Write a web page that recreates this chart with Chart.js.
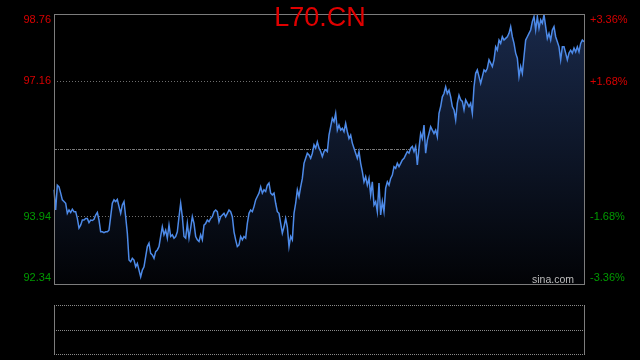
<!DOCTYPE html>
<html lang="en">
<head>
<meta charset="UTF-8">
<title>L70.CN</title>
<style>
    body {
        margin: 0;
        background: #000;
        width: 640px;
        height: 360px;
        overflow: hidden;
        position: relative;
        font-family: "Liberation Sans", Arial, sans-serif;
    }
    canvas { position: absolute; left: 0; top: 0; }
    .title {
        position: absolute;
        left: 0;
        top: 4px;
        width: 640px;
        text-align: center;
        color: #e00000;
        font-size: 27px;
        line-height: 27px;
    }
    .mark {
        position: absolute;
        left: 532px;
        top: 274px;
        color: #bdbdbd;
        font-size: 10.5px;
        line-height: 11px;
    }
</style>
<script src="https://cdn.jsdelivr.net/npm/chart.js"></script>
</head>
<body>
<canvas id="chart" width="640" height="360"></canvas>
<div class="title">L70.CN</div>
<div class="mark">sina.com</div>

<script>
// price axis and reference levels
const prevClose = 95.55;
const priceTicks = [98.76, 97.16, 93.94, 92.34];
const pctTicks = [3.36, 1.68, 0, -1.68, -3.36];

// intraday price trace
const prices = [
    94.58, 94.10, 94.69, 94.65, 94.50, 94.34, 94.30, 94.26, 94.02, 94.10,
    94.04, 94.12, 94.06, 94.06, 93.90, 93.67, 93.74, 93.86, 93.86, 93.90,
    93.90, 93.80, 93.86, 93.85, 93.88, 93.98, 94.04, 93.86, 93.58, 93.58,
    93.56, 93.58, 93.58, 93.62, 93.94, 94.26, 94.34, 94.30, 94.35, 94.18,
    94.02, 94.22, 94.30, 93.94, 93.55, 92.91, 92.87, 92.95, 92.91, 92.75,
    92.83, 92.67, 92.51, 92.67, 92.75, 92.99, 93.23, 93.31, 93.07, 93.03,
    92.95, 93.11, 93.15, 93.23, 93.47, 93.70, 93.51, 93.62, 93.43, 93.74,
    93.47, 93.51, 93.43, 93.47, 93.58, 93.94,
    94.26, 93.94, 93.47, 93.43, 93.78, 93.43, 93.67, 93.94, 93.78, 93.47,
    93.39, 93.35, 93.51, 93.39, 93.74, 93.78, 93.86, 93.82, 93.90, 93.94,
    94.06, 94.10, 94.06, 93.82, 93.94, 93.98, 94.02, 93.94, 94.02, 94.10,
    94.06, 93.94, 93.58, 93.39, 93.23, 93.27, 93.47, 93.39, 93.47, 93.43,
    93.78, 94.02, 94.10, 94.06, 94.18, 94.34, 94.42, 94.50, 94.65, 94.50,
    94.58, 94.54, 94.69, 94.74, 94.50, 94.46, 94.50, 94.26, 94.06, 94.02,
    93.78, 93.55, 93.70, 93.90, 93.70, 93.23, 93.47, 93.39, 94.02, 94.26,
    94.58, 94.42, 94.65,
    94.85, 95.21, 95.33, 95.45, 95.41, 95.33, 95.45, 95.65, 95.57, 95.72,
    95.57, 95.49, 95.37, 95.49, 95.53, 95.49, 95.88, 96.08, 96.28, 96.20,
    96.40, 96.00, 96.12, 96.00, 96.04, 95.96, 96.16, 95.96, 95.80, 95.88,
    95.69, 95.57, 95.45, 95.33, 95.49, 95.21, 95.01, 94.77, 94.89, 94.69,
    94.85, 94.46, 94.77, 94.22, 94.30, 94.06, 94.74, 93.98, 94.30, 94.06,
    94.62, 94.77, 94.69, 94.85, 94.93, 95.13, 95.09, 95.21, 95.13, 95.21,
    95.29, 95.33, 95.41, 95.49, 95.45, 95.57, 95.61, 95.49, 95.61, 95.17,
    95.57,
    95.92, 95.80, 96.12, 95.45, 95.76, 95.92, 96.08, 96.00, 95.92, 96.00,
    95.84, 96.40, 96.56, 96.79, 96.87, 97.03, 96.87, 96.95, 96.79, 96.56,
    96.48, 96.24, 96.64, 96.83, 96.72, 96.68, 96.48, 96.72, 96.64, 96.56,
    96.64, 96.40, 97.03, 97.35, 97.43, 97.27, 97.11, 97.27, 97.43, 97.39,
    97.47, 97.67, 97.59, 97.51, 97.67, 97.98, 97.90, 98.14, 98.06, 98.22,
    98.14, 98.18, 98.22, 98.30, 98.46, 98.22, 98.06, 97.83, 97.71, 97.27,
    97.51, 97.35, 97.75, 98.14, 98.22, 98.30, 98.38, 98.58, 98.70, 98.38,
    98.70, 98.42, 98.62, 98.54, 98.74, 98.46, 98.18, 98.30, 98.14, 98.38,
    98.46, 98.22, 98.10, 97.98, 97.67, 97.98, 97.98, 97.83, 97.67, 97.83,
    97.90, 97.83, 97.95, 97.86, 97.98, 97.86, 98.06, 98.14, 98.10
];

const labels = prices.map((_, i) => i);
const low = priceTicks[priceTicks.length - 1];
const high = priceTicks[0];
const pctLow = pctTicks[pctTicks.length - 1];
const pctHigh = pctTicks[0];

const RED = '#d80000';
const GREEN = '#009a00';
const GRID = '#6e6e6e';

Chart.defaults.font.family = '"Liberation Sans", Arial, sans-serif';
Chart.defaults.font.size = 11;

// edge labels sit a few pixels inside the frame, like the original
function inset(v, min, max) {
    const pad = (max - min) * 6 / 270;
    if (v === max) return v - pad;
    if (v === min) return v + pad;
    return v;
}

// plot frame plus the empty volume panel underneath
const framePlugin = {
    id: 'frame',
    afterDatasetsDraw(chart) {
        const { ctx, chartArea: a } = chart;
        ctx.save();
        ctx.strokeStyle = '#7c7c7c';
        ctx.lineWidth = 1;
        ctx.strokeRect(a.left + 0.5, a.top + 0.5, a.right - a.left, a.bottom - a.top);

        const top = 305.5, mid = 330.5, bot = 354.5;
        ctx.beginPath();
        ctx.moveTo(a.left + 0.5, top);
        ctx.lineTo(a.left + 0.5, bot);
        ctx.moveTo(a.right + 0.5, top);
        ctx.lineTo(a.right + 0.5, bot);
        ctx.stroke();

        ctx.setLineDash([1, 1]);
        ctx.strokeStyle = '#8a8a8a';
        ctx.beginPath();
        [top, mid, bot].forEach(y => {
            ctx.moveTo(a.left, y);
            ctx.lineTo(a.right + 1, y);
        });
        ctx.stroke();
        ctx.restore();
    }
};

new Chart(document.getElementById('chart'), {
    type: 'line',
    data: {
        labels: labels,
        datasets: [{
            data: prices,
            yAxisID: 'y',
            borderColor: '#4d8ae8',
            borderWidth: 1.5,
            pointRadius: 0,
            tension: 0,
            fill: 'start',
            backgroundColor: (c) => {
                const a = c.chart.chartArea;
                if (!a) return 'rgba(0,0,0,0)';
                const g = c.chart.ctx.createLinearGradient(0, a.top, 0, a.bottom);
                g.addColorStop(0, '#19294a');
                g.addColorStop(1, '#020306');
                return g;
            }
        }]
    },
    options: {
        responsive: false,
        animation: false,
        events: [],
        layout: { padding: { top: 14, bottom: 76, left: 0, right: 0 } },
        plugins: {
            legend: { display: false },
            tooltip: { enabled: false }
        },
        scales: {
            x: {
                type: 'category',
                display: false,
                offset: false
            },
            y: {
                type: 'linear',
                position: 'left',
                min: low,
                max: high,
                afterFit: (s) => { s.width = 54; },
                afterBuildTicks: (s) => {
                    s.ticks = priceTicks.map(v => ({ value: inset(v, low, high) }));
                },
                ticks: {
                    padding: 3,
                    callback: (v, i) => priceTicks[i].toFixed(2),
                    color: (c) => priceTicks[c.index] > prevClose ? RED : GREEN
                },
                grid: {
                    drawTicks: false,
                    color: (c) => (c.index === 0 || c.index === priceTicks.length - 1) ? 'rgba(0,0,0,0)' : GRID
                },
                border: { display: false, dash: [1, 2] }
            },
            pct: {
                type: 'linear',
                position: 'right',
                min: pctLow,
                max: pctHigh,
                afterFit: (s) => { s.width = 56; },
                afterBuildTicks: (s) => {
                    s.ticks = pctTicks.map(v => ({ value: inset(v, pctLow, pctHigh) }));
                },
                ticks: {
                    padding: 6,
                    callback: (v, i) => {
                        const p = pctTicks[i];
                        if (p === 0) return '';
                        return (p > 0 ? '+' : '') + p.toFixed(2) + '%';
                    },
                    color: (c) => pctTicks[c.index] > 0 ? RED : GREEN
                },
                grid: {
                    drawTicks: false,
                    color: (c) => pctTicks[c.index] === 0 ? '#7a7a7a' : 'rgba(0,0,0,0)'
                },
                border: { display: false, dash: [3, 1, 1, 1] }
            }
        }
    },
    plugins: [framePlugin]
});
</script>
</body>
</html>
